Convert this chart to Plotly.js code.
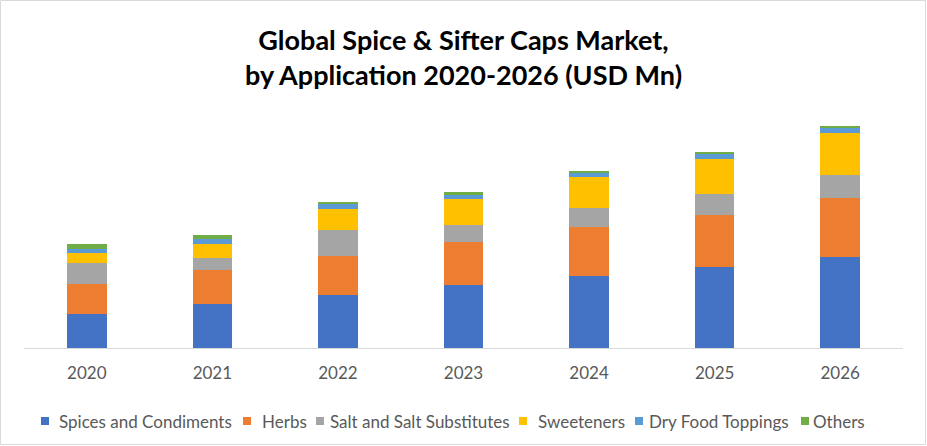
<!DOCTYPE html>
<html>
<head>
<meta charset="utf-8">
<script src="https://cdn.plot.ly/plotly-3.0.1.min.js"></script>
<style>
  html, body { margin: 0; padding: 0; background: #ffffff; }
  #chart { width: 927px; height: 446px; }
</style>
</head>
<body>
<div id="chart"></div>
<script>
// ---- Data ----
const years = ['2020', '2021', '2022', '2023', '2024', '2025', '2026'];
const spicesAndCondiments = [34, 44, 53, 63, 72, 81, 91];
const herbs = [30, 34, 39, 43, 49, 52, 59];
const saltAndSaltSubstitutes = [21, 12, 26, 17, 19, 21, 23];
const sweeteners = [10, 14, 21, 26, 31, 35, 42];
const dryFoodToppings = [4, 5, 5, 4, 4, 5, 5];
const others = [5, 4, 2, 3, 2, 2, 2];
const seriesNames = ['Spices and Condiments', 'Herbs', 'Salt and Salt Substitutes', 'Sweeteners', 'Dry Food Toppings', 'Others'];
const titleText = 'Global Spice & Sifter Caps Market,<br>by Application 2020-2026 (USD Mn)';

// ---- Styling ----
const colors = ['#4472C4', '#ED7D31', '#A5A5A5', '#FFC000', '#5B9BD5', '#70AD47'];
const seriesValues = [spicesAndCondiments, herbs, saltAndSaltSubstitutes, sweeteners, dryFoodToppings, others];

const W = 927, H = 446;
const M = { l: 24, r: 24, t: 100, b: 98 };
const PW = W - M.l - M.r, PH = H - M.t - M.b;
const px2x = px => (px - M.l) / PW;
const py2y = py => (H - M.b - py) / PH;

const traces = seriesNames.map((name, i) => ({
  type: 'bar',
  name: name,
  x: years,
  y: seriesValues[i],
  marker: { color: colors[i], line: { width: 0 } },
  showlegend: false,
  hoverinfo: 'x+y+name'
}));

// custom legend (positions taken from the reference layout)
const legendMarkerX = [41, 243, 316, 519, 635, 801];
const legendTextX = [58, 261, 329, 537, 648, 812];
const legendY = 421;
const shapes = [];
const annotations = [];
seriesNames.forEach((name, i) => {
  shapes.push({
    type: 'rect', xref: 'paper', yref: 'paper',
    x0: px2x(legendMarkerX[i]), x1: px2x(legendMarkerX[i] + 8),
    y0: py2y(legendY + 4), y1: py2y(legendY - 4),
    fillcolor: colors[i], line: { width: 0 }
  });
  annotations.push({
    xref: 'paper', yref: 'paper',
    x: px2x(legendTextX[i] - 1), y: py2y(legendY),
    xanchor: 'left', yanchor: 'middle',
    text: name, showarrow: false,
    font: { family: 'Lato, sans-serif', size: 17, color: '#595959' }
  });
});
// chart border
shapes.push({
  type: 'rect', xref: 'paper', yref: 'paper',
  x0: px2x(0.5), x1: px2x(W - 1.5), y0: py2y(H - 1.5), y1: py2y(0.5),
  line: { color: '#D9D9D9', width: 1 }, fillcolor: 'rgba(0,0,0,0)'
});

const layout = {
  width: W, height: H,
  margin: M,
  paper_bgcolor: '#ffffff',
  plot_bgcolor: '#ffffff',
  barmode: 'stack',
  bargap: 0.685,
  showlegend: false,
  title: {
    text: titleText,
    x: 0.5, xanchor: 'center',
    y: 1 - 49.5 / H, yanchor: 'middle', yref: 'container',
    font: { family: 'Lato, sans-serif', size: 27, color: '#000000', weight: 'bold' }
  },
  xaxis: {
    type: 'category',
    showline: true, linecolor: '#D9D9D9', linewidth: 1,
    showgrid: false, zeroline: false, ticks: '',
    tickfont: { family: 'Lato, sans-serif', size: 17, color: '#595959' },
    ticklabelstandoff: 10
  },
  yaxis: {
    range: [0, PH],
    showgrid: false, zeroline: false, showline: false,
    showticklabels: false, ticks: ''
  },
  shapes: shapes,
  annotations: annotations
};

Plotly.newPlot('chart', traces, layout, { displayModeBar: false, staticPlot: true });
</script>
</body>
</html>
